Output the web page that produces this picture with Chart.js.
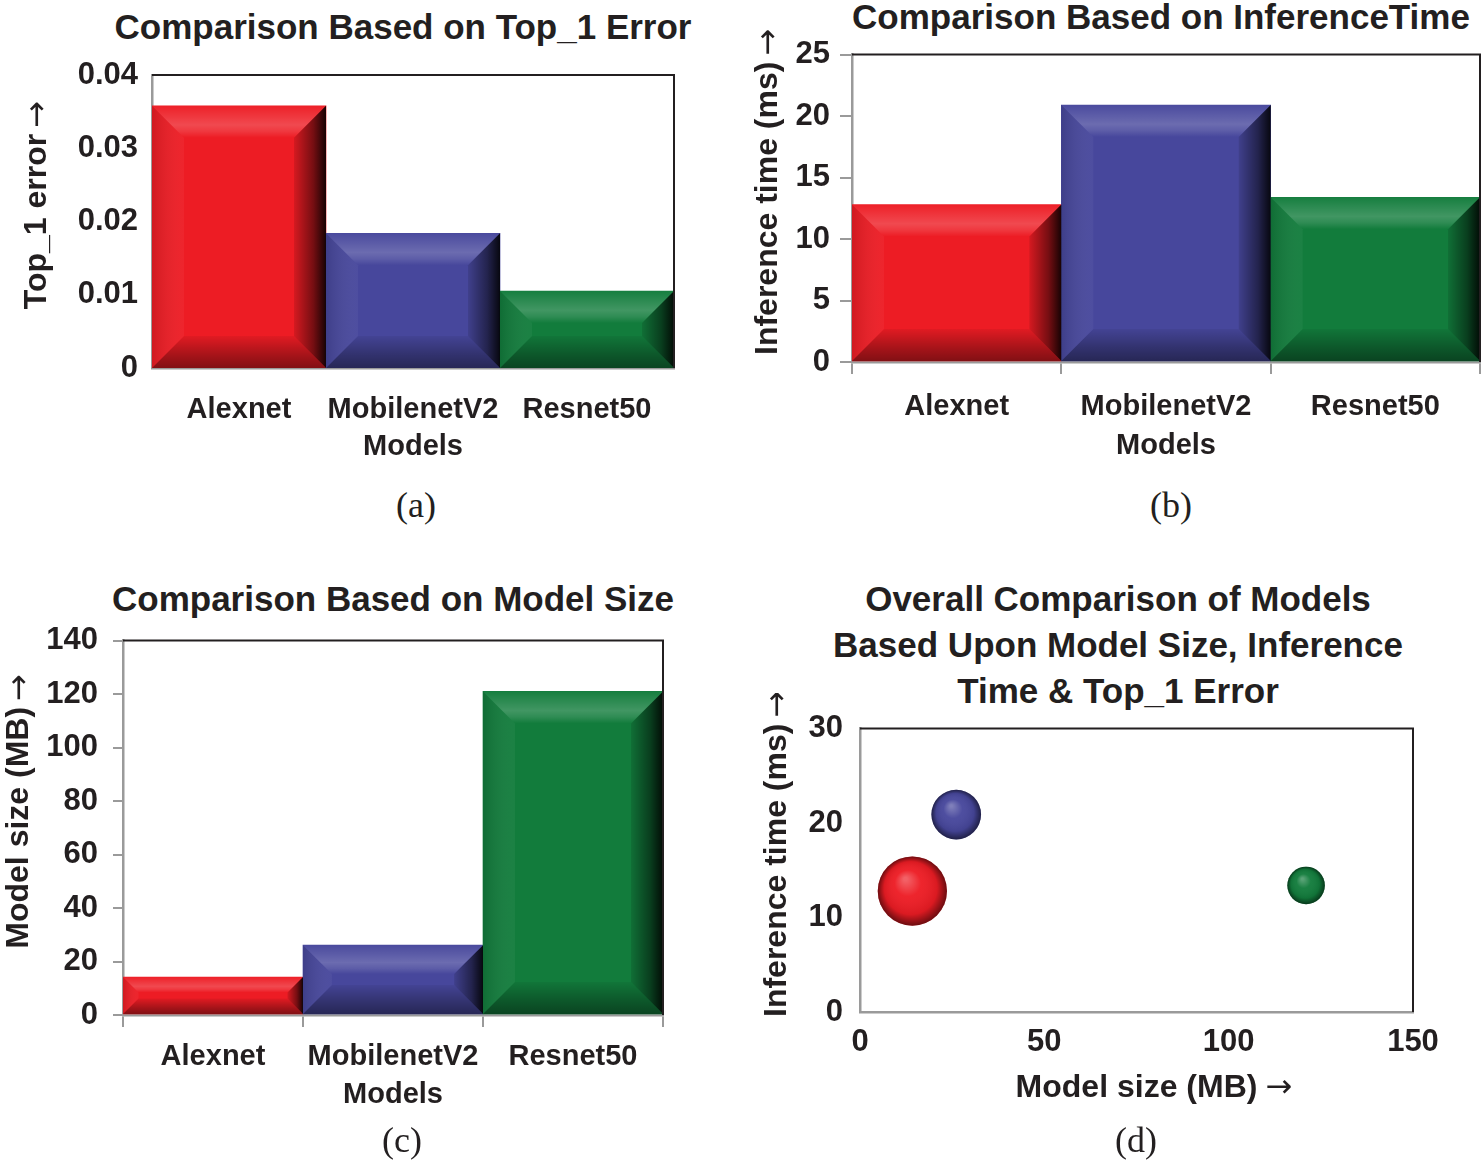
<!DOCTYPE html>
<html>
<head>
    <meta charset="utf-8" />
    <title>Model comparison</title>
    <script src="https://cdn.jsdelivr.net/npm/chart.js"></script>
    <style>
        body { margin: 0; width: 1484px; height: 1164px; background: #fff; position: relative; overflow: hidden; }
        canvas { position: absolute; }
        .ttl { position: absolute; transform: translate(-50%, -50%); white-space: nowrap; text-align: center;
               font: bold 35px 'Liberation Sans', Arial, sans-serif; color: #231f20; line-height: 46px; }
        .cap { position: absolute; transform: translate(-50%, -50%); font: 36px 'Liberation Serif', 'Times New Roman', serif; color: #231f20; }
    </style>
</head>
<body>
    <div class="ttl" style="left:403px; top:27px;">Comparison Based on Top_1 Error</div>
    <div class="ttl" style="left:1161px; top:17px;">Comparison Based on InferenceTime</div>
    <div class="ttl" style="left:393px; top:599px;">Comparison Based on Model Size</div>
    <div class="ttl" style="left:1118px; top:645px;">Overall Comparison of Models<br>Based Upon Model Size, Inference<br>Time &amp; Top_1 Error</div>

    <canvas id="chartA" width="700" height="440" style="left:0; top:40px;"></canvas>
    <canvas id="chartB" width="744" height="454" style="left:740px; top:26px;"></canvas>
    <canvas id="chartC" width="700" height="513" style="left:0; top:607px;"></canvas>
    <canvas id="chartD" width="744" height="427" style="left:740px; top:693px;"></canvas>

    <div class="cap" style="left:416px; top:505px;">(a)</div>
    <div class="cap" style="left:1171px; top:505px;">(b)</div>
    <div class="cap" style="left:402px; top:1140px;">(c)</div>
    <div class="cap" style="left:1136px; top:1140px;">(d)</div>

    <script>
        // data
        var models = ['Alexnet', 'MobilenetV2', 'Resnet50'];
        var top1Error = [0.0358, 0.0184, 0.0105];
        var inferenceTime = [12.8, 20.9, 13.4];
        var modelSize = [14.2, 26.1, 121.0];
        var barColors = ['#ed1c24', '#47479c', '#127c3c'];

        var FONT = "'Liberation Sans', Arial, sans-serif";
        var TXT = '#231f20';
        var GREY = '#9a9a9a';
        var tickFont = { family: FONT, size: 31, weight: 'bold', lineHeight: 1.2 };
        var catFont = { family: FONT, size: 29, weight: 'bold', lineHeight: 1.2 };
        var axisFont = { family: FONT, size: 32, weight: 'bold', lineHeight: 1.2 };
        var ARROW_FONT = "32px 'DejaVu Sans', sans-serif";
        var BUBBLE_K = 183;

        // 3d bevel look on top of each bar
        var bevelPlugin = {
            id: 'bevel',
            afterDatasetsDraw: function(chart) {
                var ctx = chart.ctx;
                var meta = chart.getDatasetMeta(0);
                ctx.save();
                meta.data.forEach(function(el) {
                    var p = el.getProps(['x', 'y', 'base', 'width'], true);
                    var l = p.x - p.width / 2, r = p.x + p.width / 2;
                    var t = Math.min(p.y, p.base), b = Math.max(p.y, p.base);
                    var d = Math.min(32, (b - t) * 0.42, p.width * 0.2);
                    var g;
                    // top
                    g = ctx.createLinearGradient(0, t, 0, t + d);
                    g.addColorStop(0, 'rgba(255,255,255,0.02)');
                    g.addColorStop(0.6, 'rgba(255,255,255,0.2)');
                    g.addColorStop(0.8, 'rgba(255,255,255,0.12)');
                    g.addColorStop(1, 'rgba(255,255,255,0)');
                    ctx.fillStyle = g;
                    ctx.beginPath();
                    ctx.moveTo(l, t); ctx.lineTo(r, t); ctx.lineTo(r - d, t + d); ctx.lineTo(l + d, t + d);
                    ctx.closePath(); ctx.fill();
                    // bottom
                    g = ctx.createLinearGradient(0, b - d, 0, b);
                    g.addColorStop(0, 'rgba(0,0,0,0.05)');
                    g.addColorStop(0.6, 'rgba(0,0,0,0.3)');
                    g.addColorStop(1, 'rgba(0,0,0,0.45)');
                    ctx.fillStyle = g;
                    ctx.beginPath();
                    ctx.moveTo(l, b); ctx.lineTo(r, b); ctx.lineTo(r - d, b - d); ctx.lineTo(l + d, b - d);
                    ctx.closePath(); ctx.fill();
                    // right
                    g = ctx.createLinearGradient(r - d, 0, r, 0);
                    g.addColorStop(0, 'rgba(0,0,0,0.1)');
                    g.addColorStop(0.6, 'rgba(0,0,0,0.5)');
                    g.addColorStop(1, 'rgba(0,0,0,0.9)');
                    ctx.fillStyle = g;
                    ctx.beginPath();
                    ctx.moveTo(r, t); ctx.lineTo(r, b); ctx.lineTo(r - d, b - d); ctx.lineTo(r - d, t + d);
                    ctx.closePath(); ctx.fill();
                    // left
                    g = ctx.createLinearGradient(l, 0, l + d, 0);
                    g.addColorStop(0, 'rgba(0,0,0,0.12)');
                    g.addColorStop(1, 'rgba(255,255,255,0.04)');
                    ctx.fillStyle = g;
                    ctx.beginPath();
                    ctx.moveTo(l, t); ctx.lineTo(l, b); ctx.lineTo(l + d, b - d); ctx.lineTo(l + d, t + d);
                    ctx.closePath(); ctx.fill();
                });
                ctx.restore();
            }
        };

        // shading for the bubbles so they look like spheres
        var spherePlugin = {
            id: 'sphere',
            afterDatasetsDraw: function(chart) {
                var ctx = chart.ctx;
                chart.getDatasetMeta(0).data.forEach(function(el) {
                    var x = el.x, y = el.y, r = el.options.radius;
                    var g = ctx.createRadialGradient(x - r * 0.2, y - r * 0.35, r * 0.05, x, y, r);
                    g.addColorStop(0, 'rgba(255,255,255,0.3)');
                    g.addColorStop(0.35, 'rgba(255,255,255,0.04)');
                    g.addColorStop(0.75, 'rgba(0,0,0,0.08)');
                    g.addColorStop(1, 'rgba(0,0,0,0.55)');
                    ctx.save();
                    ctx.fillStyle = g;
                    ctx.beginPath();
                    ctx.arc(x, y, r, 0, Math.PI * 2);
                    ctx.fill();
                    ctx.restore();
                });
            }
        };

        // black top / right edge of the plot box
        var framePlugin = {
            id: 'frame',
            afterDraw: function(chart) {
                var a = chart.chartArea, ctx = chart.ctx;
                ctx.save();
                ctx.strokeStyle = '#231f20';
                ctx.lineWidth = 2;
                ctx.beginPath();
                ctx.moveTo(a.left, a.top); ctx.lineTo(a.right, a.top); ctx.lineTo(a.right, a.bottom);
                ctx.stroke();
                ctx.restore();
            }
        };

        // the arrow after an axis title
        var arrowPlugin = {
            id: 'arrowTitle',
            afterDraw: function(chart, args, opts) {
                var ctx = chart.ctx, a = chart.chartArea;
                ['x', 'y'].forEach(function(k) {
                    if (!opts[k]) return;
                    var s = chart.scales[k], t = s.options.title;
                    var size = axisFont.size, lh = size * axisFont.lineHeight;
                    ctx.save();
                    ctx.font = 'bold ' + size + 'px ' + FONT;
                    var w = ctx.measureText(t.text).width;
                    ctx.font = ARROW_FONT;
                    var aw = ctx.measureText('\u2192').width;
                    ctx.fillStyle = TXT;
                    ctx.textAlign = 'center';
                    ctx.textBaseline = 'middle';
                    if (k === 'y') {
                        ctx.translate(s.left + t.padding.top + lh / 2, (a.top + a.bottom) / 2 - w / 2 - 6 - aw / 2);
                        ctx.rotate(-Math.PI / 2);
                    } else {
                        ctx.translate((a.left + a.right) / 2 + w / 2 + 8 + aw / 2, s.bottom - t.padding.bottom - lh / 2);
                    }
                    ctx.fillText('\u2192', 0, 1);
                    ctx.restore();
                });
            }
        };

        function barChart(id, values, p) {
            return new Chart(document.getElementById(id), {
                type: 'bar',
                data: {
                    labels: models,
                    datasets: [{
                        data: values,
                        backgroundColor: barColors,
                        borderWidth: 0,
                        categoryPercentage: 1,
                        barPercentage: 1
                    }]
                },
                options: {
                    responsive: false,
                    animation: false,
                    devicePixelRatio: 1,
                    layout: { padding: { top: p.padTop, right: p.padRight, left: 0, bottom: 0 } },
                    plugins: { legend: { display: false }, tooltip: { enabled: false }, arrowTitle: { y: true } },
                    scales: {
                        x: {
                            grid: { display: p.ticks, drawOnChartArea: false, drawTicks: p.ticks, tickLength: 12, color: GREY, lineWidth: 2 },
                            border: { color: GREY, width: 2.5 },
                            ticks: { font: catFont, color: TXT, padding: p.xTickPad, maxRotation: 0 },
                            title: { display: true, text: 'Models', font: catFont, color: TXT, padding: { top: 0, bottom: p.xTitlePad } },
                            afterFit: function(s) { s.height = p.xH; }
                        },
                        y: {
                            min: 0, max: p.max,
                            grid: { display: p.ticks, drawOnChartArea: false, drawTicks: p.ticks, tickLength: p.yTick, color: GREY, lineWidth: 2 },
                            border: { color: GREY, width: 2.5 },
                            ticks: { stepSize: p.step, font: tickFont, color: TXT, padding: p.yTickPad,
                                     callback: function(v) { return String(+v.toFixed(3)); } },
                            title: { display: true, text: p.yTitle, font: axisFont, color: TXT, padding: { top: p.yTitlePad, bottom: 0 } },
                            afterFit: function(s) { s.width = p.yW; }
                        }
                    }
                },
                plugins: [bevelPlugin, framePlugin, arrowPlugin]
            });
        }

        barChart('chartA', top1Error, {
            padTop: 35, padRight: 26, yW: 152, xH: 112, max: 0.04, step: 0.01, ticks: false, yTick: 0,
            yTickPad: 14, xTickPad: 25, xTitlePad: 16, yTitle: 'Top_1 error', yTitlePad: 18
        });
        barChart('chartB', inferenceTime, {
            padTop: 23, padRight: 4, yW: 112, xH: 118, max: 25, step: 5, ticks: true, yTick: 12,
            yTickPad: 10, xTickPad: 16, xTitlePad: 17, yTitle: 'Inference time (ms)', yTitlePad: 9
        });
        barChart('chartC', modelSize, {
            padTop: 20, padRight: 37, yW: 123, xH: 105, max: 140, step: 20, ticks: true, yTick: 10,
            yTickPad: 15, xTickPad: 13, xTitlePad: 8, yTitle: 'Model size (MB)', yTitlePad: 0
        });

        new Chart(document.getElementById('chartD'), {
            type: 'bubble',
            data: {
                datasets: [{
                    data: models.map(function(m, i) {
                        return { x: modelSize[i], y: inferenceTime[i], r: BUBBLE_K * Math.sqrt(top1Error[i]) };
                    }),
                    backgroundColor: barColors,
                    borderWidth: 0
                }]
            },
            options: {
                responsive: false,
                animation: false,
                devicePixelRatio: 1,
                layout: { padding: { top: 28, right: 71, left: 0, bottom: 0 } },
                plugins: { legend: { display: false }, tooltip: { enabled: false }, arrowTitle: { x: true, y: true } },
                scales: {
                    x: {
                        min: 0, max: 150,
                        grid: { display: false, drawTicks: false },
                        border: { color: GREY, width: 2.5 },
                        ticks: { stepSize: 50, font: tickFont, color: TXT, padding: 12 },
                        title: { display: true, text: 'Model size (MB)', font: axisFont, color: TXT, padding: { top: 0, bottom: 13 } },
                        afterFit: function(s) { s.height = 108; }
                    },
                    y: {
                        min: 0, max: 30,
                        grid: { display: false, drawTicks: false },
                        border: { color: GREY, width: 2.5 },
                        ticks: { stepSize: 10, font: tickFont, color: TXT, padding: 17 },
                        title: { display: true, text: 'Inference time (ms)', font: axisFont, color: TXT, padding: { top: 18, bottom: 0 } },
                        afterFit: function(s) { s.width = 120; }
                    }
                }
            },
            plugins: [spherePlugin, framePlugin, arrowPlugin]
        });
    </script>
</body>
</html>
